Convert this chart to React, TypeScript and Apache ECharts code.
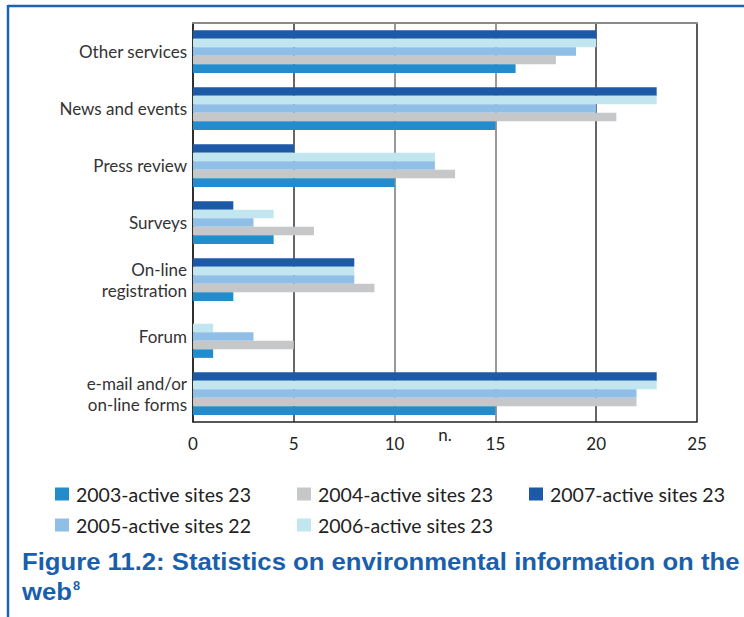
import React, { useEffect, useRef } from "react";
import * as echarts from "echarts";

const categories = [
  "e-mail and/or\non-line forms",
  "Forum",
  "On-line\nregistration",
  "Surveys",
  "Press review",
  "News and events",
  "Other services",
];
const seriesNames = [
  "2003-active sites 23",
  "2004-active sites 23",
  "2005-active sites 22",
  "2006-active sites 23",
  "2007-active sites 23",
];
const v2003 = [15, 1, 2, 4, 10, 15, 16];
const v2004 = [22, 5, 9, 6, 13, 21, 18];
const v2005 = [22, 3, 8, 3, 12, 20, 19];
const v2006 = [23, 1, 8, 4, 12, 23, 20];
const v2007 = [23, 0, 8, 2, 5, 23, 20];
const xTicks = [0, 5, 10, 15, 20, 25];
const colors = ["#238ccc", "#c6c7c9", "#8fbfe7", "#c2e6f0", "#1c59a7"];

export default function App() {
  const ref = useRef<HTMLDivElement>(null);
  useEffect(() => {
    if (!ref.current) return;
    const chart = echarts.init(ref.current, null, { renderer: "svg" });
    const values = [v2003, v2004, v2005, v2006, v2007];
    const legendPos = [
      { left: 50, top: 479 },
      { left: 292, top: 479 },
      { left: 50, top: 510 },
      { left: 292, top: 510 },
      { left: 524, top: 479 },
    ];
    const font = "Lato, 'Open Sans', sans-serif";
    const order = [4, 3, 2, 1, 0];
    chart.setOption({
      animation: false,
      backgroundColor: "#ffffff",
      grid: { left: 193, right: 47, top: 23, bottom: 195 },
      xAxis: [
        {
          type: "value",
          min: xTicks[0],
          max: xTicks[xTicks.length - 1],
          interval: 5,
          position: "bottom",
          name: "n.",
          nameLocation: "middle",
          nameGap: 4,
          nameMoveOverlap: false,
          nameTextStyle: { fontFamily: font, fontSize: 17, color: "#222", verticalAlign: "top" },
          axisLine: { show: true, lineStyle: { color: "#222", width: 1.5 } },
          axisTick: { show: false },
          axisLabel: { fontFamily: font, fontSize: 17, color: "#222", margin: 13 },
          splitLine: {
            show: true,
            lineStyle: { color: ["#222", "#333", "#777", "#777", "#333", "#222"], width: 1.5 },
          },
        },
        {
          type: "value",
          min: xTicks[0],
          max: xTicks[xTicks.length - 1],
          interval: 5,
          position: "top",
          axisLine: { show: true, lineStyle: { color: "#8a8a8a", width: 2 } },
          axisTick: { show: false },
          axisLabel: { show: false },
          splitLine: { show: false },
        },
      ],
      yAxis: {
        type: "category",
        data: categories,
        axisLine: { show: true, lineStyle: { color: "#222", width: 1.5 } },
        axisTick: { show: false },
        axisLabel: { fontFamily: font, fontSize: 17, color: "#333", margin: 6, lineHeight: 21 },
      },
      legend: legendPos.map((p, i) => ({
        data: [seriesNames[i]],
        left: p.left,
        top: p.top,
        itemWidth: 14,
        itemHeight: 13,
        icon: "rect",
        textStyle: { fontFamily: font, fontSize: 19.5, color: "#222", padding: [0, 0, 0, 2] },
        selectedMode: false,
      })),
      series: order.map((i) => ({
        name: seriesNames[i],
        type: "bar",
        data: values[i],
        itemStyle: { color: colors[i] },
        barGap: "0%",
        barCategoryGap: "25%",
      })),
      graphic: [
        { type: "line", shape: { x1: 8, y1: 6, x2: 744, y2: 6 }, style: { stroke: "#1f62b0", lineWidth: 2.5 } },
        { type: "line", shape: { x1: 8, y1: 5, x2: 8, y2: 617 }, style: { stroke: "#1f62b0", lineWidth: 2.5 } },
        {
          type: "text",
          left: 22,
          top: 550,
          scaleX: 1.07,
          style: {
            text: "Figure 11.2: Statistics on environmental information on the",
            font: "bold 24px 'Liberation Sans', Arial, sans-serif",
            fill: "#1a5fab",
          },
        },
        {
          type: "text",
          left: 22,
          top: 580,
          scaleX: 1.07,
          style: {
            text: "web{s|8}",
            font: "bold 24px 'Liberation Sans', Arial, sans-serif",
            fill: "#1a5fab",
            rich: {
              s: { fontSize: 12, fontWeight: "bold", fontFamily: "'Liberation Sans'", fill: "#1a5fab", verticalAlign: "top", padding: [0, 0, 8, 1] },
            },
          },
        },
      ],
    });
    return () => chart.dispose();
  }, []);
  return <div ref={ref} style={{ position: "fixed", left: 0, top: 0, width: 744, height: 617 }} />;
}
